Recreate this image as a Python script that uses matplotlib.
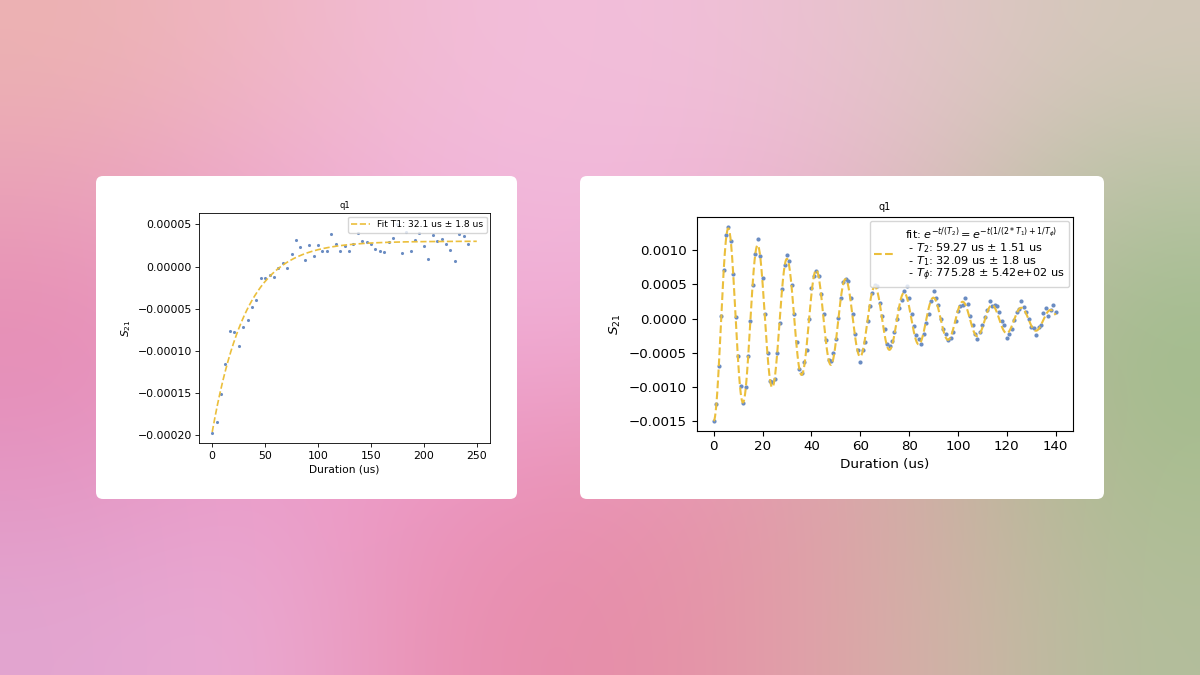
import numpy as np
import matplotlib.pyplot as plt
from matplotlib.patches import FancyBboxPatch

W, H = 1200, 675

# --- T1 measurement (left card), signal in units of 1e-5
t1_duration = np.arange(59) * 250 / 60
t1_signal = [
    -19.7, -18.4, -15.1, -11.6, -7.6, -7.8, -9.4, -7.2, -6.3, -4.8,
    -4.0, -1.3, -1.3, -1.0, -1.2, -0.2, 0.4, -0.2, 1.5, 3.1,
    2.3, 0.8, 2.5, 1.2, 2.5, 1.8, 1.9, 3.8, 2.7, 1.8,
    2.4, 1.8, 2.7, 4.0, 3.0, 2.9, 2.7, 2.1, 1.9, 1.7,
    2.9, 3.4, 5.07, 1.6, 4.1, 1.8, 3.2, 4.0, 2.4, 0.9,
    3.7, 3.0, 3.3, 2.7, 2.0, 0.7, 3.9, 3.65, 2.7,
]
t1_fit = dict(T1=32.1, amp=-22.6, offset=3.0)
t1_label = "Fit T1: 32.1 us ± 1.8 us"

# --- Ramsey / T2 measurement (right card), signal in units of 1e-3
t2_duration = np.arange(141)
t2_signal = [
    -1.50, -1.25, -0.70, 0.035, 0.71, 1.23, 1.34, 1.14, 0.65, 0.02,
    -0.55, -0.99, -1.24, -1.00, -0.55, -0.03, 0.49, 0.95, 1.17, 0.91,
    0.60, 0.07, -0.50, -0.91, -0.93, -0.88, -0.50, -0.07, 0.43, 0.79,
    0.93, 0.84, 0.49, 0.06, -0.35, -0.74, -0.79, -0.64, -0.46, 0.00,
    0.44, 0.62, 0.69, 0.63, 0.36, 0.06, -0.32, -0.61, -0.62, -0.50,
    -0.30, 0.015, 0.30, 0.54, 0.58, 0.55, 0.30, 0.06, -0.22, -0.46,
    -0.64, -0.46, -0.34, -0.04, 0.19, 0.37, 0.49, 0.47, 0.23, 0.04,
    -0.16, -0.38, -0.40, -0.33, -0.19, -0.01, 0.15, 0.27, 0.41, 0.47,
    0.30, 0.06, -0.11, -0.24, -0.30, -0.37, -0.22, -0.07, 0.07, 0.26,
    0.41, 0.30, 0.20, 0.00, -0.15, -0.22, -0.32, -0.28, -0.20, -0.03,
    0.11, 0.18, 0.20, 0.30, 0.21, 0.04, -0.10, -0.23, -0.30, -0.19,
    -0.10, 0.02, 0.13, 0.25, 0.19, 0.20, 0.18, 0.10, -0.04, -0.10,
    -0.28, -0.23, -0.15, -0.02, 0.10, 0.14, 0.26, 0.17, 0.09, 0.00,
    -0.13, -0.14, -0.24, -0.12, -0.09, 0.08, 0.15, 0.04, 0.13, 0.20,
    0.10,
]
t2_fit = dict(T2=59.27, amp=1.481, period=12.0, offset=-0.019)
t2_label = ("fit: $e^{-t/(T_2)} = e^{-t(1/(2*T_1) + 1/T_\\phi)}$\n"
            " - $T_2$: 59.27 us ± 1.51 us\n"
            " - $T_1$: 32.09 us ± 1.8 us\n"
            " - $T_\\phi$: 775.28 ± 5.42e+02 us")

# blurred backdrop colours (rows top->bottom, cols left->right)
bg_grid = np.array([
    [(236, 178, 178), (240, 182, 195), (242, 188, 214), (243, 190, 220), (238, 192, 212), (225, 198, 198), (210, 200, 185)],
    [(234, 160, 185), (238, 170, 205), (242, 182, 218), (242, 185, 220), (238, 180, 210), (218, 190, 188), (180, 195, 160)],
    [(230, 140, 180), (236, 155, 200), (240, 170, 212), (240, 170, 210), (232, 165, 195), (205, 182, 168), (160, 188, 140)],
    [(228, 150, 195), (235, 160, 205), (236, 150, 195), (234, 145, 180), (228, 155, 170), (205, 178, 165), (170, 190, 145)],
    [(226, 165, 208), (236, 172, 212), (234, 145, 180), (230, 140, 168), (228, 155, 168), (210, 180, 168), (178, 190, 155)],
], dtype=np.uint8)

POINT_C = "#6a8cc2"
FIT_C = "#ebbf3c"


def px_axes(fig, left, top, right, bottom):
    return fig.add_axes([left / W, 1 - bottom / H, (right - left) / W, (bottom - top) / H])


def main():
    fig = plt.figure(figsize=(W / 100, H / 100), dpi=100)

    bg = fig.add_axes([0, 0, 1, 1])
    bg.imshow(bg_grid, interpolation="bicubic", extent=[0, W, H, 0], aspect="auto")
    bg.set_xlim(0, W)
    bg.set_ylim(H, 0)
    bg.axis("off")
    for x0, y0, x1, y1 in [(96, 176, 517, 499), (580, 176, 1104, 499)]:
        bg.add_patch(FancyBboxPatch((x0, y0), x1 - x0, y1 - y0,
                                    boxstyle="round,pad=0,rounding_size=7",
                                    fc="white", ec="none"))

    # left: T1
    ax = px_axes(fig, 199, 213.3, 490, 443.3)
    tt = np.linspace(0, 250, 300)
    fit = t1_fit["amp"] * np.exp(-tt / t1_fit["T1"]) + t1_fit["offset"]
    ax.scatter(t1_duration, np.array(t1_signal) * 1e-5, s=5, color=POINT_C, lw=0, zorder=2)
    ax.plot(tt, fit * 1e-5, "--", color=FIT_C, lw=1.2, label=t1_label, zorder=3)
    ax.set_title("q1", fontsize=6, pad=4)
    ax.set_xlabel("Duration (us)", fontsize=7.7, labelpad=3)
    ax.set_ylabel("$S_{21}$", fontsize=7.7, labelpad=3)
    ax.set_xticks([0, 50, 100, 150, 200, 250])
    ax.set_yticks([-0.0002, -0.00015, -0.0001, -0.00005, 0, 0.00005])
    ax.tick_params(labelsize=7.8, length=2.7, width=0.6, pad=2.5)
    for s in ax.spines.values():
        s.set_linewidth(0.6)
    ax.legend(loc="upper right", fontsize=6.6, borderaxespad=0.35, handlelength=2.0)

    # right: T2 Ramsey
    ax2 = px_axes(fig, 696.7, 217.3, 1072.7, 430.7)
    tt2 = np.linspace(0, 140, 1400)
    fit2 = (t2_fit["amp"] * np.exp(-tt2 / t2_fit["T2"])
            * np.cos(2 * np.pi * tt2 / t2_fit["period"] + np.pi) + t2_fit["offset"])
    ax2.scatter(t2_duration, np.array(t2_signal) * 1e-3, s=9, color=POINT_C, lw=0, zorder=2)
    ax2.plot(tt2, fit2 * 1e-3, "--", color=FIT_C, lw=1.5, label=t2_label, zorder=3)
    ax2.set_title("q1", fontsize=7, pad=5)
    ax2.set_xlabel("Duration (us)", fontsize=9.7, labelpad=3.5)
    ax2.set_ylabel("$S_{21}$", fontsize=9.7)
    ax2.set_xticks(np.arange(0, 141, 20))
    ax2.tick_params(labelsize=9.6, length=3.5, width=0.8)
    leg = ax2.legend(loc="upper right", fontsize=8.1, borderaxespad=0.35,
                     handlelength=2.0, borderpad=0.35)
    for txt in leg.get_texts():
        txt.set_linespacing(0.92)

    fig.savefig("out.png", dpi=100)


if __name__ == "__main__":
    main()
